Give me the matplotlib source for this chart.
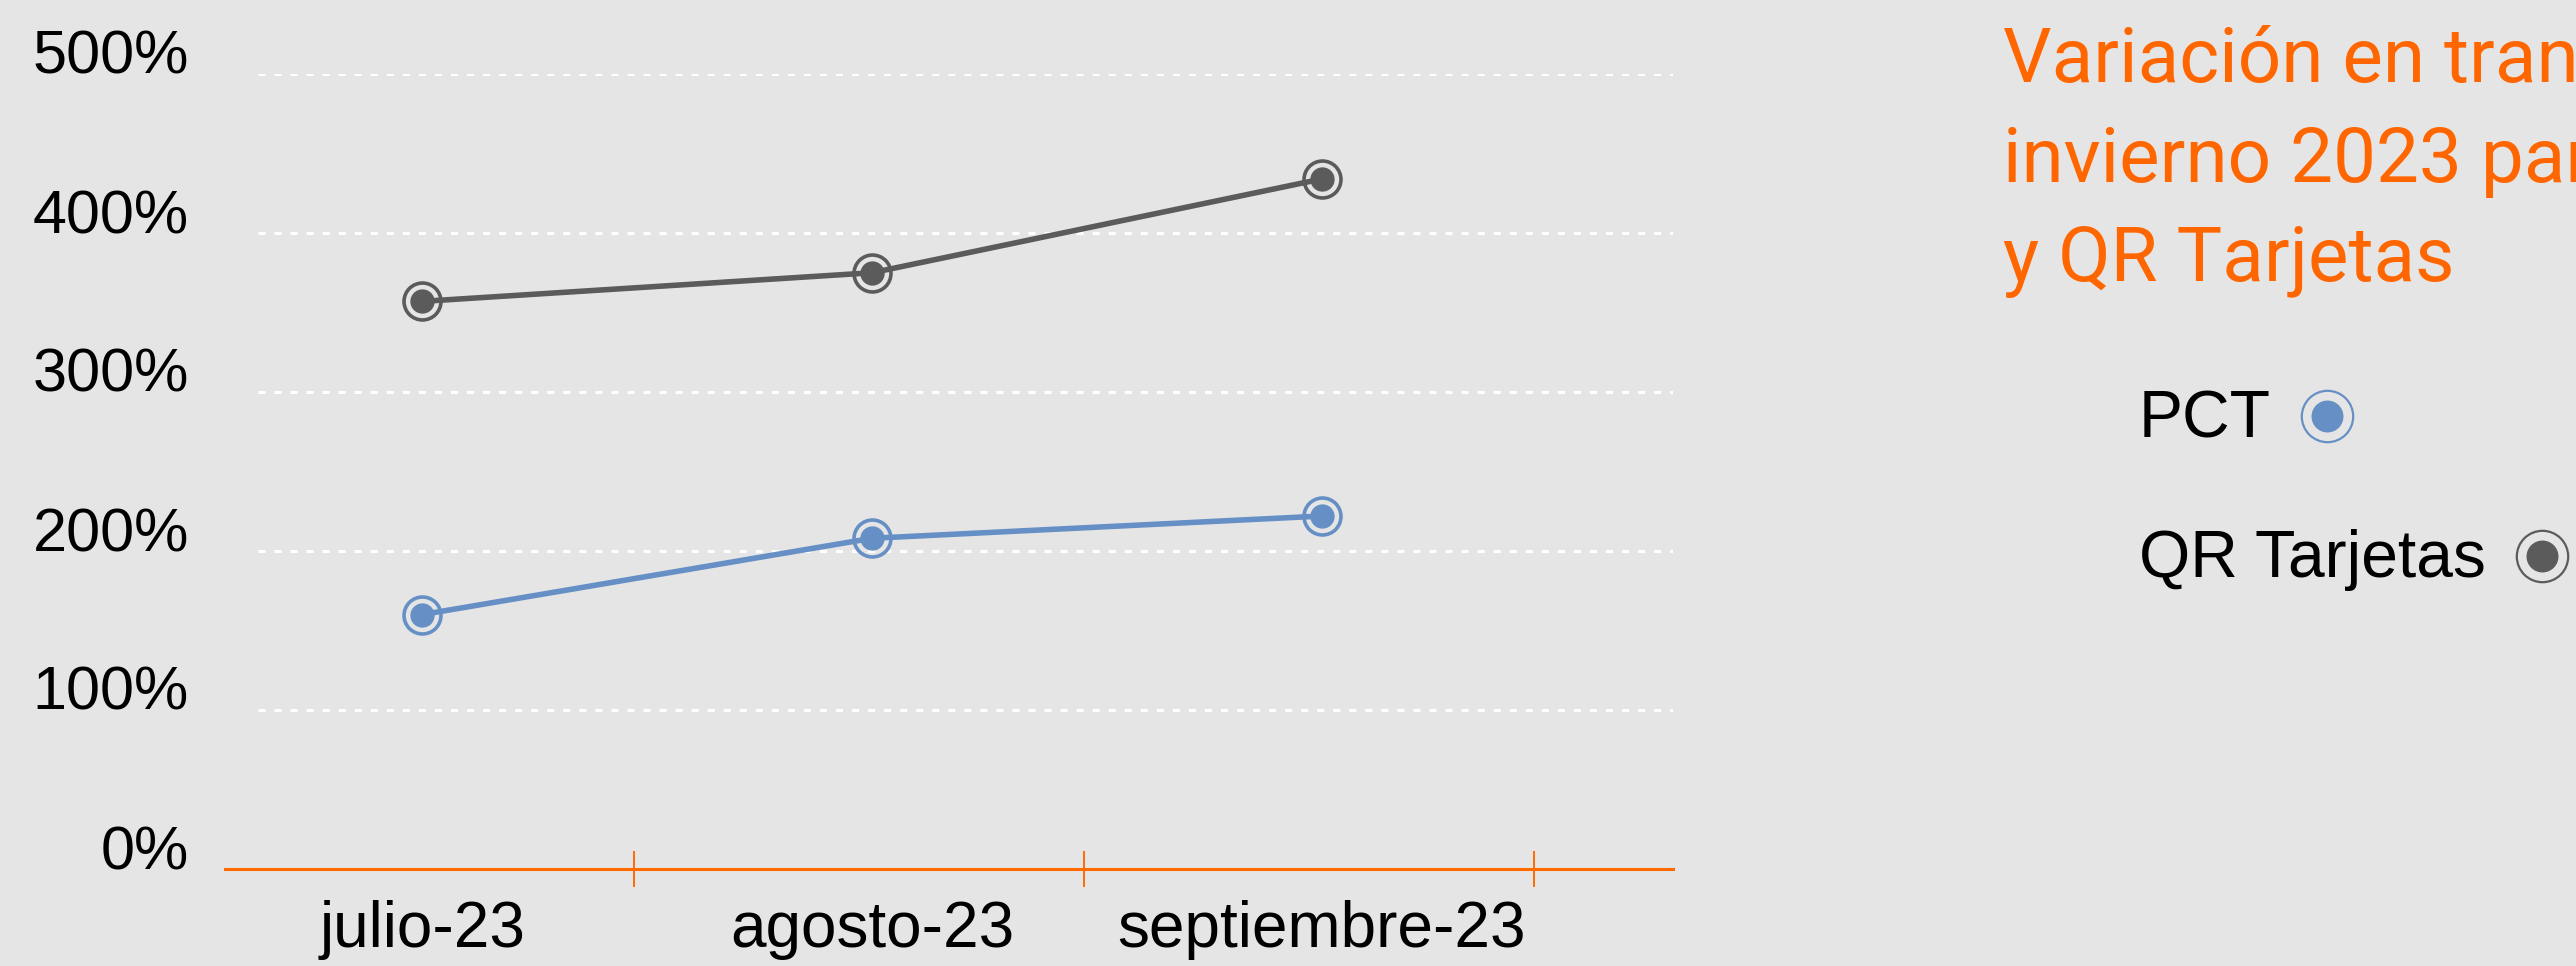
import matplotlib
matplotlib.use("Agg")
import matplotlib.pyplot as plt
from matplotlib.lines import Line2D

# datos
meses = ["julio-23", "agosto-23", "septiembre-23"]
pct = [160, 208, 222]
qr_tarjetas = [357, 375, 434]
series = ["PCT", "QR Tarjetas"]
yticks = [0, 100, 200, 300, 400, 500]
titulo = ["Variación en transacciones", "invierno 2023 para PCT", "y QR Tarjetas"]

BG = "#E5E5E5"
NARANJA = "#FF6A00"
AZUL = "#6690C5"
GRIS = "#5B5B5B"
colores = [AZUL, GRIS]

plt.rcParams["font.family"] = ["Liberation Sans", "DejaVu Sans"]

W, H = 2576, 966
fig = plt.figure(figsize=(W / 100, H / 100), dpi=100, facecolor=BG)
ax = fig.add_axes([225 / W, (H - 869) / H, (1673 - 225) / W, (869 - 74) / H])
ax.set_facecolor(BG)

x = list(range(len(meses)))
for vals, c in zip([pct, qr_tarjetas], colores):
    ax.plot(x, vals, color=c, lw=4, marker="o", ms=16.5, mfc=c, mec=c, zorder=3)
    ax.plot(x, vals, ls="none", marker="o", ms=26.6, mfc="none", mec=c, mew=2.6, zorder=3)

ax.set_xlim(-0.438, 2.78)
ax.set_ylim(0, 500)

# grilla punteada blanca
ax.hlines(yticks[1:], -0.365, 2.78, colors="white", lw=2.2, linestyles=(0, (2.3, 2.95)), zorder=1)

for s in ["top", "right", "left"]:
    ax.spines[s].set_visible(False)
ax.spines["bottom"].set_color(NARANJA)
ax.spines["bottom"].set_linewidth(2.2)

ax.set_yticks(yticks)
ax.set_yticklabels([f"{v}%" for v in yticks], fontsize=44)
for t in ax.get_yticklabels():
    t.set_va("baseline")
ax.tick_params(axis="y", length=0, pad=26)

ax.set_xticks([0.47, 1.47, 2.47])
ax.set_xticklabels([])
ax.tick_params(axis="x", which="major", direction="inout", length=26, width=1.4, color=NARANJA)
ax.set_xticks(x, meses, minor=True)
ax.tick_params(axis="x", which="minor", length=0, pad=22, labelsize=46)

# titulo (se corta en el borde derecho como en el original)
for i, linea in enumerate(titulo):
    fig.text(2003 / W, 1 - (82 + 99.5 * i) / H, linea, color="#FF6600", fontsize=55,
             family=["Roboto", "DejaVu Sans"], va="baseline", ha="left")

# leyenda
fig.canvas.draw()
r = fig.canvas.get_renderer()
for nombre, c, yb in zip(series, colores, [437, 577]):
    t = fig.text(2139 / W, 1 - yb / H, nombre, fontsize=47.5, va="baseline", ha="left")
    bb = t.get_window_extent(renderer=r)
    xm = bb.x1 + 56
    ym = H - (yb - 21)
    fig.add_artist(Line2D([xm / W], [ym / H], transform=fig.transFigure, marker="o", ms=22,
                          mfc=c, mec=c, ls="none"))
    fig.add_artist(Line2D([xm / W], [ym / H], transform=fig.transFigure, marker="o", ms=37,
                          mfc="none", mec=c, mew=1.6, ls="none"))

fig.savefig("out.png", dpi=100, facecolor=BG)
